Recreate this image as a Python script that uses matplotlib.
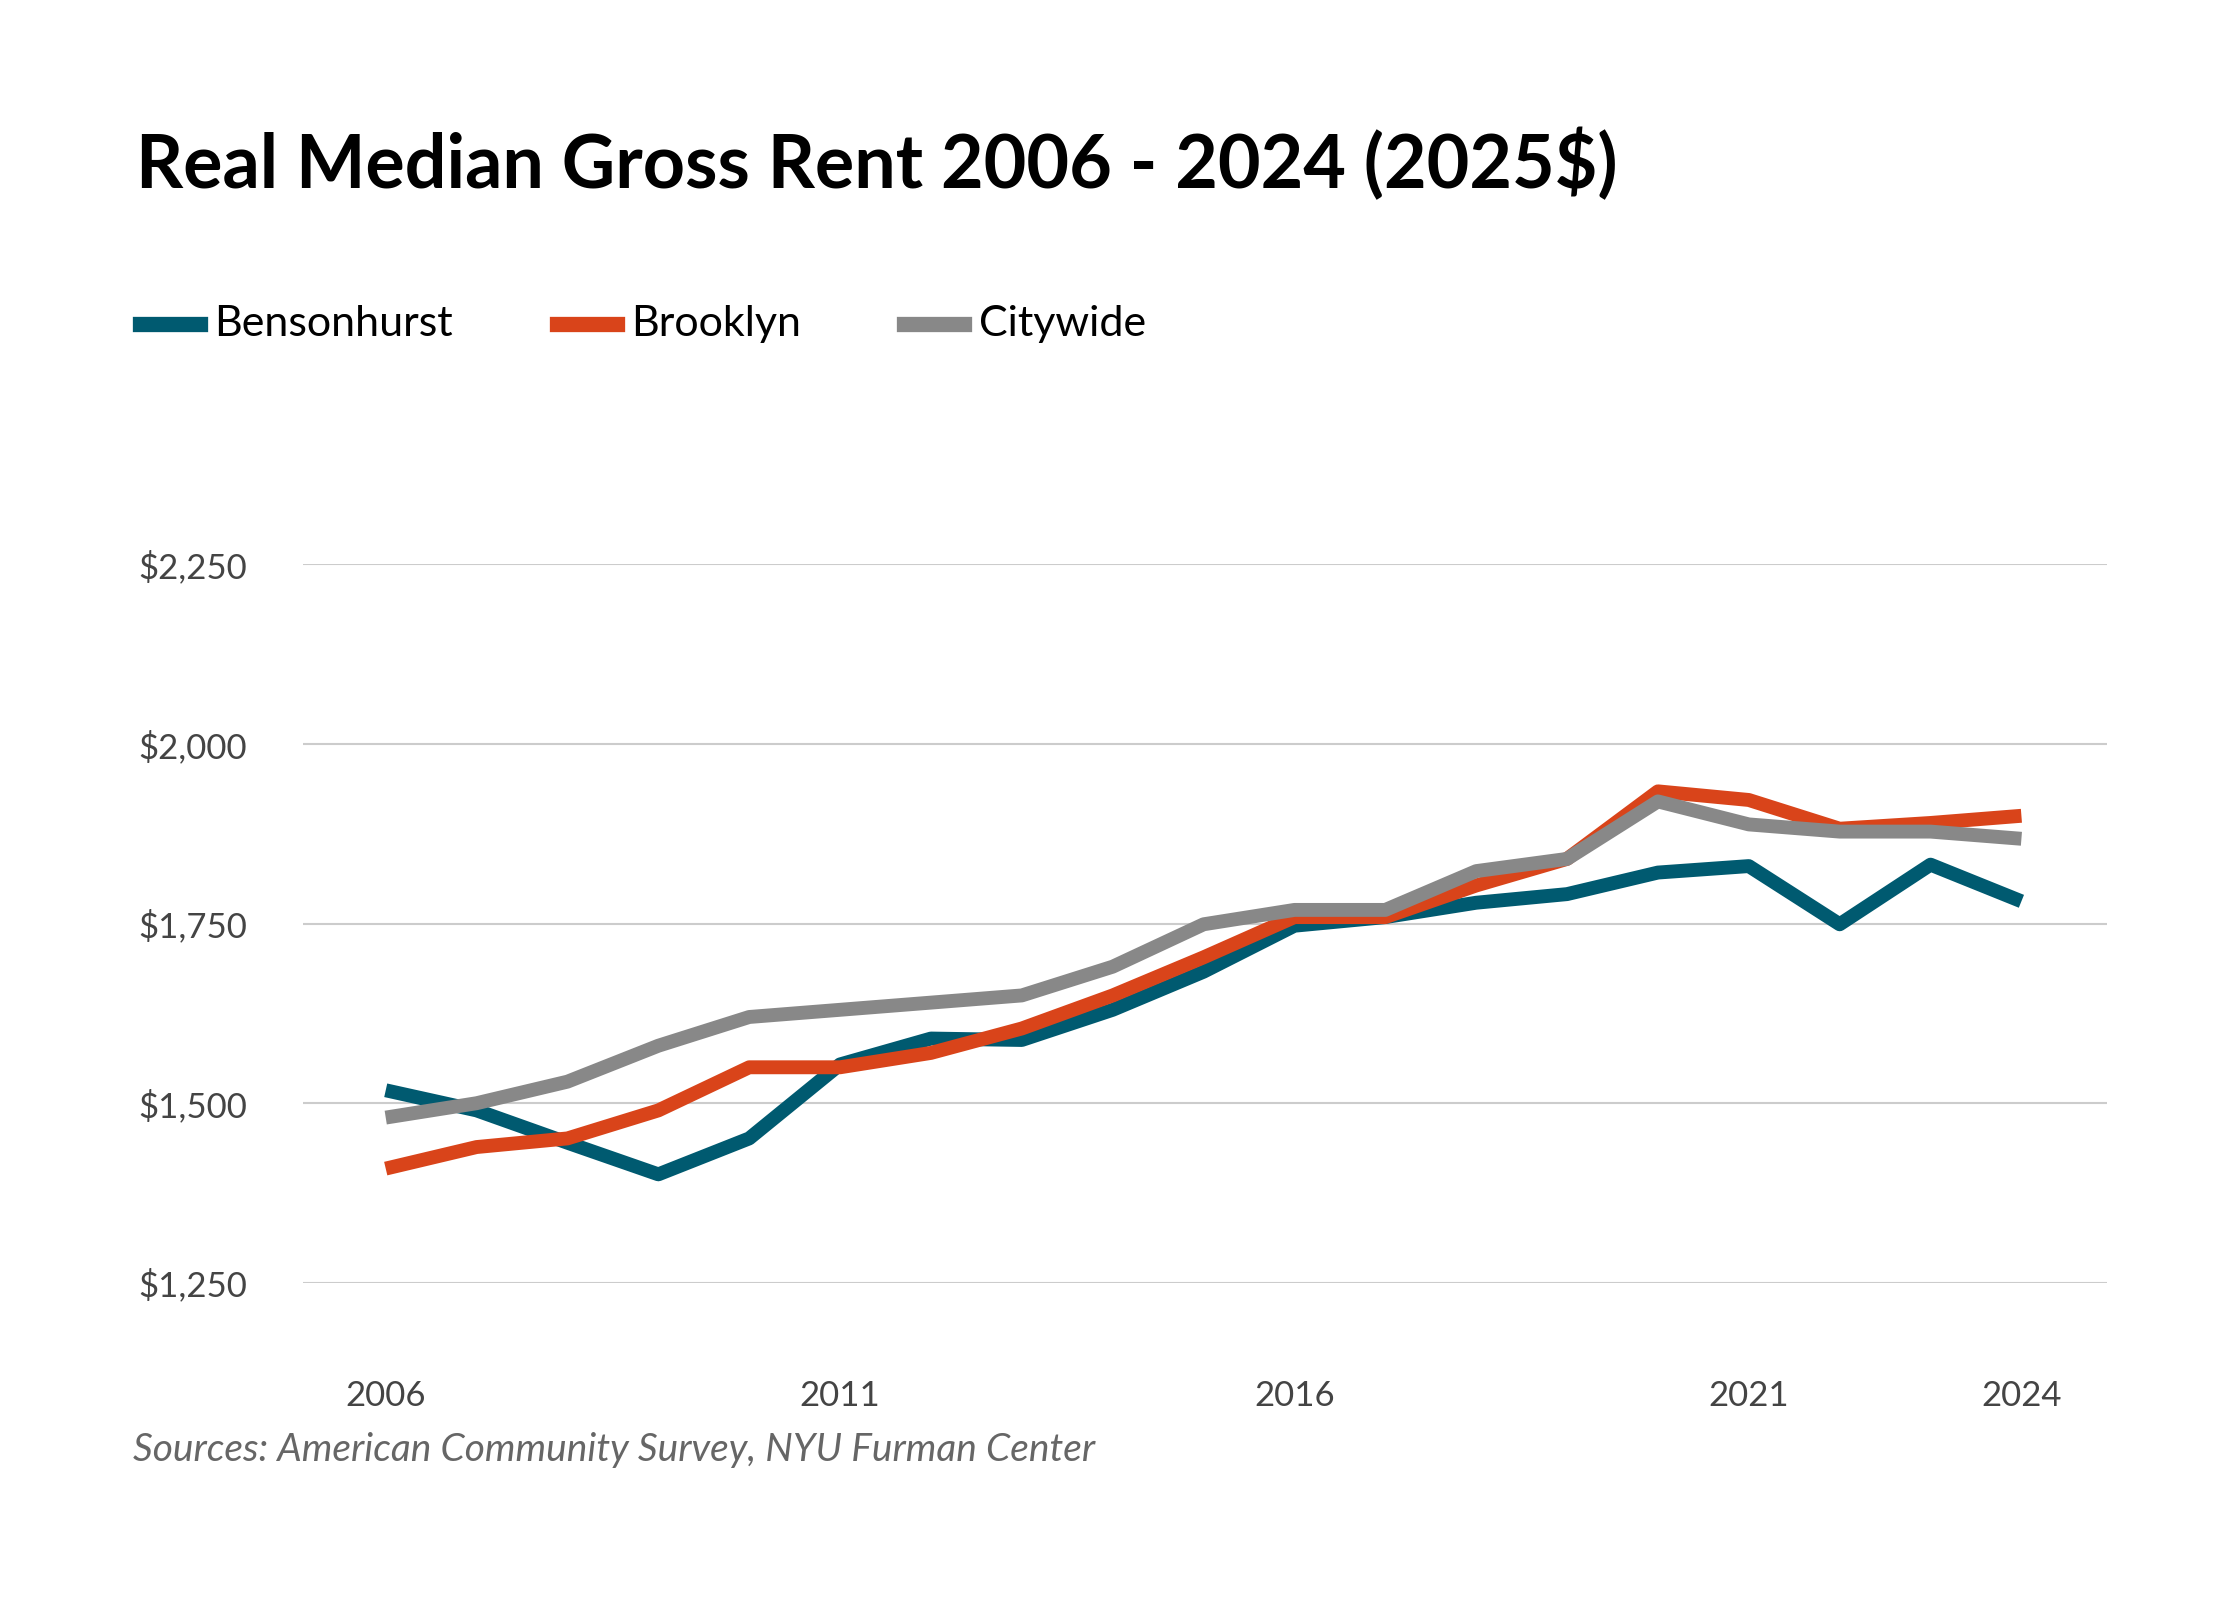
import matplotlib
matplotlib.use("Agg")
from matplotlib import pyplot as plt

years = list(range(2006, 2025))
bensonhurst = [1518, 1490, 1445, 1401, 1451, 1554, 1590, 1588, 1630, 1683,
               1747, 1759, 1779, 1791, 1821, 1830, 1749, 1832, 1781]
brooklyn = [1409, 1439, 1451, 1490, 1550, 1550, 1570, 1604, 1650, 1703,
            1759, 1759, 1803, 1840, 1934, 1922, 1882, 1890, 1900]
citywide = [1480, 1500, 1530, 1580, 1620, 1630, 1640, 1650, 1690, 1749,
            1769, 1769, 1823, 1840, 1920, 1888, 1878, 1878, 1868]
yticks = [1250, 1500, 1750, 2000, 2250]
xticks = [2006, 2011, 2016, 2021, 2024]

plt.rcParams['font.family'] = ['Lato', 'DejaVu Sans']
fig = plt.figure(figsize=(22.4, 16), dpi=100)
W, H = 1568, 1120
ax = fig.add_axes([212 / W, 1 - 898 / H, (1475 - 212) / W, 503 / H])
ax.set_xlim(2006 - 58 / 63.6, 2024 + 60 / 63.6)
ax.set_ylim(1250, 2250)

series = [("Bensonhurst", bensonhurst, "#005a70"),
          ("Brooklyn", brooklyn, "#d9441a"),
          ("Citywide", citywide, "#888888")]
for name, vals, col in series:
    ax.plot(years, vals, color=col, lw=10, solid_capstyle='butt', clip_on=False, zorder=3)

for v in yticks:
    ax.axhline(v, color="#cccccc", lw=1.5, zorder=1)
for s in ax.spines.values():
    s.set_visible(False)
ax.set_yticks(yticks)
ax.set_yticklabels([f"${v:,}" for v in yticks], fontsize=25, color="#444444")
ax.set_xticks(xticks)
ax.set_xticklabels([str(v) for v in xticks], fontsize=25, color="#444444")
ax.tick_params(length=0)
ax.tick_params(axis='y', pad=40)
ax.tick_params(axis='x', pad=70)

fig.text(95 / W, 1 - 115 / H, "Real Median Gross Rent 2006 - 2024 (2025$)",
         fontsize=53, fontweight='bold', va='center', ha='left')

lx = [98, 390, 633]
for (name, vals, col), x in zip(series, lx):
    fig.add_artist(plt.Line2D([x / W, (x + 42) / W], [1 - 227 / H] * 2, color=col, lw=11))
    fig.text((x + 52) / W, 1 - 227 / H, name, fontsize=31, va='center', ha='left')

fig.text(93 / W, 1 - 1015 / H, "Sources: American Community Survey, NYU Furman Center",
         fontsize=28, style='italic', color="#666666", va='center', ha='left')

fig.savefig("out.png", dpi=100)
